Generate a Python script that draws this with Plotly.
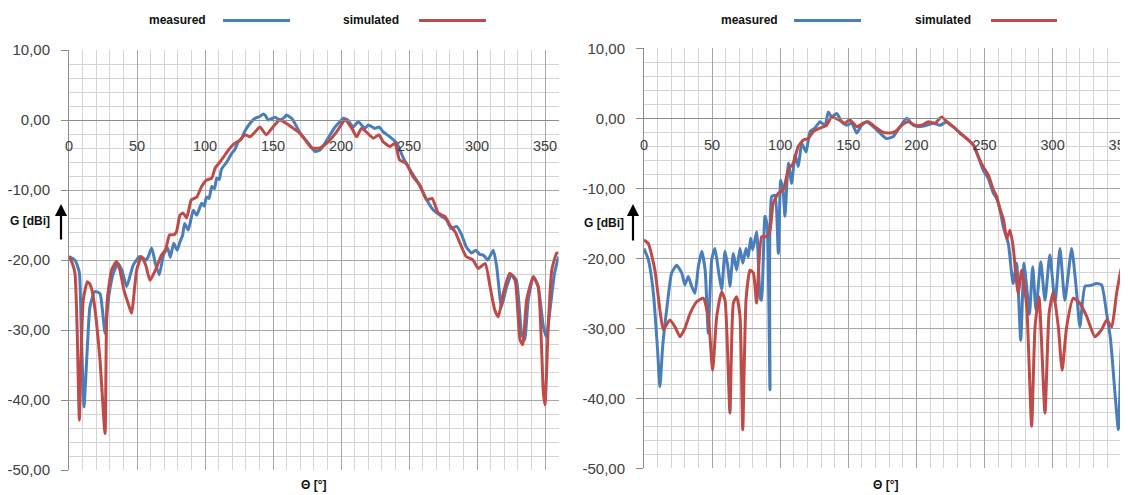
import plotly.graph_objects as go

# page places the figure 8 px in from the top-left corner
OFF = 8
W, H = 1128 - OFF, 495 - OFF

# ---------------- data ----------------
left_meas_theta = [0, 3, 5, 7.6, 9, 11, 13.5, 15.4, 19, 22.8, 24.5, 26.5, 28, 29.6, 32.6, 36, 39, 42.4, 47.3, 52, 57, 60.8, 63.5, 66.4, 69.4,
                   72.5, 74.5, 77, 79.5, 81.6, 83.5, 85, 87.7, 91.4, 93.9, 97.5, 99.5, 101, 103, 105, 107, 108.6, 110.5, 112, 116, 119.6,
                   122, 124.5, 127, 129, 133, 136.8, 140.4, 142.9, 144.5, 146.5, 151.5, 155, 158, 160, 163.7, 167, 170, 176, 181, 184.6,
                   189.5, 195.6, 199, 201.7, 205, 209, 212.7, 217.6, 220, 225, 228, 231, 236, 241, 246, 250.7, 255.6, 259, 263, 268,
                   272.8, 277.7, 281, 285, 288.7, 292, 296, 299, 302, 304.7, 308, 312, 314.5, 318, 321.8, 325.5, 329, 332.8, 335,
                   337.7, 341.4, 345, 348.8, 351, 353.7, 357, 360]
left_meas_gain = [-19.5, -19.8, -20.2, -21.8, -30, -41, -32.4, -26.7, -24.5, -24.8, -27, -30.5, -27.5, -24.7, -21.9, -20.5, -21.5, -23.8,
                  -20.7, -19.5, -20, -18.3, -20.5, -22.1, -19.3,
                  -18.3, -19.6, -17.6, -18.6, -17.4, -16.5, -14.8, -15.7, -12.9, -13.6, -11.9, -12.3, -11, -11.2, -9.5, -9.8, -8.3,
                  -8.5, -7.1, -6, -4.8,
                  -4.2, -3.1, -2.6, -1.7, -0.5, 0.24, 0.5, 0.86, 0.6, 0, 0.4, 0, 0.3, 0.7, 0.24, -0.8, -1.9, -3.3, -4.5, -4.3,
                  -2.9, -1, -0.3, 0.24, 0, -1, -0.24, -1.2, -0.7, -1.2, -1, -1.7, -2.4, -3.3, -5.5, -7.1, -8.6, -9.8, -11.4, -12.9,
                  -13.6, -14.3, -15.5, -15.2, -16.4, -18.1, -19, -18.6, -19.2, -19.3, -20, -18.6, -21, -26.7, -23.8, -22.1, -22.9,
                  -30.5, -31.4,
                  -25.7, -22.4, -23.8, -29.5, -31, -27.1, -21.9, -19.5]

left_sim_theta = [0, 2.5, 4.4, 6, 7.6, 9, 10.5, 13.5, 15.5, 17.4, 20, 22.8, 26.5, 28, 31.4, 35, 37.5, 40.4, 44, 46, 49.8, 53.4, 56.5,
                  59.6, 64.5, 68, 71, 74, 77, 79, 81.6, 84, 86.5, 90, 94, 97.5, 101, 105, 107.4, 111, 114.7, 118.4, 122, 125.7,
                  129.4, 133, 136.8, 140.4, 145, 150, 155, 160, 165, 170, 174.7, 178.5, 184.6, 190.7, 196.8, 203, 208, 211.5, 215,
                  218.6, 223.8, 227.9, 231, 236, 239.7, 243, 248, 253, 258, 263, 267, 271.5, 276.5, 280, 284, 287.5, 292, 297,
                  301, 306, 309.6, 313, 315.7, 319.3, 324, 328, 331.6, 333.6, 336.5, 341.4, 345, 348.8, 350, 352.4, 355, 358.6, 360]
left_sim_gain = [-19.5, -20.5, -21.9, -30, -42.9, -33, -25.7, -23.1, -23.5, -24.8, -28.5, -34.3, -44.8, -26, -21.4, -20.2, -21.5,
                 -24.3, -26.5, -27.6, -21.4, -19.5, -20.8, -22.9, -21, -19.3, -18.5, -16.4, -16.4, -16, -13.6, -13.3, -14, -11.4,
                 -11, -9.5, -8.6, -8.3, -6.9, -6, -5, -4, -3.3, -2.9, -2.1, -2.4, -1.7, -1, -2.1, -1, 0, -0.5, -1.2, -1.9, -3.1,
                 -4, -4, -3.1, -1.7, 0, -1.2, -2.4, -1.2, -1.7, -2.6, -2.1, -3.1, -3.8, -3.3, -5.7, -6.2, -8.1, -9.3, -11.4,
                 -11.2, -13.3, -13.8, -15, -16, -17.6, -19.5, -20, -21.2, -20.5, -23.8, -27.1, -28.1, -24.8, -21.9, -22.9, -31.4,
                 -32.1, -25.7, -22.4, -23.8, -39, -40.7, -29.5, -21.4, -19, -19]

right_meas_theta = [0, 3.2, 6.9, 9.8, 11.7, 13.7, 16.6, 20.3, 24, 27.7, 30, 32.5, 35, 37.4, 39.9, 42.4, 44.9, 47.2, 49.7, 52.1, 54.6,
                    57, 59.5, 61.9, 63.1, 65.6, 68, 70.5, 72.5, 74.9, 76.6, 78.3, 79.8, 82.7, 85.2, 86.3, 88.8, 90.5, 92.5, 93.7,
                    96.2, 98.6, 100.4, 102.3, 103.5, 106, 108.4, 110.9, 113.3, 115.8, 119, 121.9, 125.5, 129.2, 132.9, 135.3,
                    137.8, 141.5, 145.2, 148.8, 152.5, 156.2, 159.8, 163.4, 168.3, 173.2, 178, 183, 188, 192.8, 197.7, 202.6,
                    207.5, 212.4, 217.3, 222.2, 227, 232, 237, 241.8, 245.5, 249, 252.8, 256.5, 259, 261.4, 263.8, 267.5, 271,
                    273.6, 276.6, 279, 281.4, 283, 285.4, 287.8, 291.3, 294.4, 298, 301.8, 305.4, 309, 314, 317.7, 320, 323.8,
                    327.5, 332.3, 336, 339.7, 342.6, 345.8, 348.3, 350.7, 353.2, 355.4, 358, 360]
right_meas_gain = [-18.6, -20.2, -25, -32.6, -38.3, -32.6, -27.4, -22.1, -21, -22.1, -23.8, -22.6, -24, -25, -21.2, -19, -21.7,
                   -30.7, -20.2, -18.6, -21.7, -24.5, -19, -21.7, -24, -19.3, -21.7, -18.6, -20.7, -18.6, -19.8, -17.1, -18.8,
                   -16.2, -25.5, -26, -14, -15.5, -38.8, -11.2, -11, -19.3, -8.8, -10.7, -14, -6.4, -9.3, -5.2, -6.9, -3.6, -4.8,
                   -1.9, -1.4, -0.5, -1, 0.9, 0.2, 0.7, -0.5, -1, -0.7, -2.1, -1, -0.5, -1.2, -2.1, -2.9, -2.6, -1.2, 0, -1, -1.2,
                   -1, -0.7, -1, -0.5, -1.2, -2.1, -2.9, -3.8, -5.5, -7.4, -8.6, -10.7, -11.5, -13.1, -15.5, -17.9, -23.6, -20.7,
                   -31.7, -20.7, -25, -28, -21.2, -27.4, -20.5, -26, -19.5, -26.4, -18.6, -26, -18.6, -25, -29.8, -24, -23.9,
                   -23.6, -23.8, -27.9, -31.7, -39.3, -44.5, -31.2, -24, -18.8, -17, -16]

right_sim_theta = [0, 3.2, 8, 11.7, 14.2, 19, 22.8, 26.4, 30, 33.8, 38.7, 43.5, 47.2, 50.4, 53.4, 57, 59.5, 63.1, 65.6, 68, 70.5,
                   72.5, 74.9, 77.8, 80.3, 82.7, 86.4, 90, 92.5, 94.9, 98.6, 102.3, 106, 109.6, 113.3, 117, 120.6, 124.3, 129.2,
                   134, 137.8, 142.7, 147.6, 151, 156.2, 161, 164.6, 169.5, 174.4, 179.4, 184.3, 189.2, 194, 199, 203.8, 208.7,
                   213.6, 218.6, 223.4, 228.3, 232, 237, 241.8, 245.5, 249, 252.8, 256.5, 259, 261.4, 264, 266.3, 268.7, 271,
                   274.7, 277.3, 281, 284.6, 287.1, 290, 294.4, 297.4, 300.5, 304.2, 307, 310.3, 315.2, 320, 325, 331, 336,
                   339.7, 343.4, 347, 350.7, 355.4, 360]
right_sim_gain = [-17.4, -17.9, -21.7, -27.4, -30.2, -28.8, -29.8, -31.2, -30, -27.9, -26.2, -25.7, -28.3, -36, -28.3, -24.8, -26,
                  -42.1, -26.4, -25.5, -28.3, -44.5, -26, -21.7, -22.1, -26.4, -16.9, -16.9, -16, -12.1, -10.7, -10.2, -7.3,
                  -6.4, -4, -3.1, -2.9, -1.9, -1.4, -1, 0.2, -0.2, -0.7, -0.2, -1.2, -0.7, -0.5, -1.2, -1.9, -2.1, -1.9, -1,
                  -0.5, -1, -1, -0.5, -0.7, 0.2, -0.7, -1.4, -2.1, -2.9, -3.8, -5.5, -6.9, -8.1, -10.2, -11.2, -13, -14.5,
                  -17.2, -16, -18.3, -25, -21.7, -26.9, -44, -29.8, -25.5, -42.1, -27.9, -24.8, -29.8, -36, -29.8, -25.7,
                  -26.4, -28.3, -31.2, -30.2, -28.8, -29.8, -25, -21.2, -17.9, -16]

x_ticks = [0, 50, 100, 150, 200, 250, 300, 350]
y_ticks = [10, 0, -10, -20, -30, -40, -50]
legend_labels = ["measured", "simulated"]
x_title = "Θ [°]"
y_title = "G [dBi]"

# ---------------- styling ----------------
BLUE = "#4A7EBB"
RED = "#BE4B48"
MAJOR = "#a6a6a6"
MINOR = "#d4d4d4"
AXIS = "#8c8c8c"
TXT = "#404040"
FONT = "Liberation Sans"


def px(x):
    """reference-screen x pixel -> paper fraction"""
    return (x - OFF) / W


def py(y):
    """reference-screen y pixel -> paper fraction"""
    return 1 - (y - OFF) / H


y_ticktext = [("%.2f" % v).replace(".", ",") for v in y_ticks]

fig = go.Figure()
for xs, ys, col, xa, ya in [
    (left_meas_theta, left_meas_gain, BLUE, "x", "y"),
    (left_sim_theta, left_sim_gain, RED, "x", "y"),
    (right_meas_theta, right_meas_gain, BLUE, "x2", "y2"),
    (right_sim_theta, right_sim_gain, RED, "x2", "y2"),
]:
    fig.add_trace(go.Scatter(x=xs, y=ys, mode="lines", xaxis=xa, yaxis=ya,
                             line=dict(color=col, width=3, shape="spline", smoothing=0.5),
                             showlegend=False, hoverinfo="skip"))

panels = [
    dict(x0=69, xmax=360, ytop=50, ybot=470, xpx_per=1.36),
    dict(x0=644, xmax=(1128 - 644) / 1.362, ytop=48.3, ybot=468.3, xpx_per=1.362),
]

layout = dict(
    width=W, height=H, autosize=False,
    margin=dict(l=0, r=0, t=0, b=0, pad=0, autoexpand=False),
    paper_bgcolor="white", plot_bgcolor="white",
    showlegend=False,
)

for i, p in enumerate(panels):
    sx = "" if i == 0 else "2"
    x1 = p["x0"] + p["xpx_per"] * p["xmax"]
    ydom = [py(p["ybot"]), py(p["ytop"])]
    y0px = p["ytop"] + (p["ybot"] - p["ytop"]) * (10 / 60)
    layout["xaxis" + sx] = dict(
        domain=[px(p["x0"]), min(1.0, px(x1))],
        range=[0, p["xmax"]],
        anchor="free", position=py(y0px),
        tickvals=x_ticks, ticks="", ticklabelstandoff=13,
        ticklabeloverflow="allow",
        showline=True, linecolor=AXIS, linewidth=1,
        showgrid=True, gridcolor=MAJOR, gridwidth=1,
        minor=dict(dtick=10, tick0=0, showgrid=True, gridcolor=MINOR, gridwidth=1),
        zeroline=False, automargin=False,
        tickfont=dict(family=FONT, size=14.5, color=TXT),
        fixedrange=True,
    )
    layout["yaxis" + sx] = dict(
        domain=ydom, range=[-50, 10],
        anchor="x" + sx,
        tickvals=y_ticks, ticktext=y_ticktext,
        ticks="outside", ticklen=7, tickcolor=AXIS, ticklabelstandoff=8,
        showline=True, linecolor=AXIS, linewidth=1,
        showgrid=True, gridcolor=MAJOR, gridwidth=1,
        minor=dict(dtick=2, tick0=0, showgrid=True, gridcolor=MINOR, gridwidth=1),
        zeroline=False, automargin=False,
        tickfont=dict(family=FONT, size=15, color=TXT),
        fixedrange=True,
    )

fig.update_layout(**layout)

annotations = []
shapes = []
legend_pos = [
    [(177, 223, 290), (371, 419, 486)],
    [(749, 794, 861), (943, 991, 1057)],
]
colors = [BLUE, RED]
for panel_leg in legend_pos:
    for (tx, lx0, lx1), lab, col in zip(panel_leg, legend_labels, colors):
        annotations.append(dict(x=px(tx), y=py(19.5), xref="paper", yref="paper", text="<b>%s</b>" % lab,
                                showarrow=False, xanchor="center", yanchor="middle",
                                font=dict(family=FONT, size=12, color="#111111")))
        shapes.append(dict(type="line", xref="paper", yref="paper", x0=px(lx0), x1=px(lx1),
                           y0=py(20.5), y1=py(20.5), line=dict(color=col, width=3)))

for gx, gy, ax_x, head_y, tail_y, tx in [(30, 221, 61, 204, 241, 313), (604, 222.5, 633, 204, 242, 885)]:
    annotations.append(dict(x=px(gx), y=py(gy), xref="paper", yref="paper", text="<b>%s</b>" % y_title,
                            showarrow=False, xanchor="center", yanchor="middle",
                            font=dict(family=FONT, size=12, color="#111111")))
    annotations.append(dict(x=px(ax_x), y=py(head_y), xref="paper", yref="paper", text="",
                            showarrow=True, arrowhead=2, arrowsize=1.1, arrowwidth=2.2, arrowcolor="#000000",
                            ax=0, ay=tail_y - head_y, axref="pixel", ayref="pixel", standoff=0))
    annotations.append(dict(x=px(tx), y=py(485), xref="paper", yref="paper", text="<b>%s</b>" % x_title,
                            showarrow=False, xanchor="center", yanchor="middle",
                            font=dict(family=FONT, size=12, color="#111111")))

fig.update_layout(annotations=annotations, shapes=shapes)
fig.write_html("out.html")
